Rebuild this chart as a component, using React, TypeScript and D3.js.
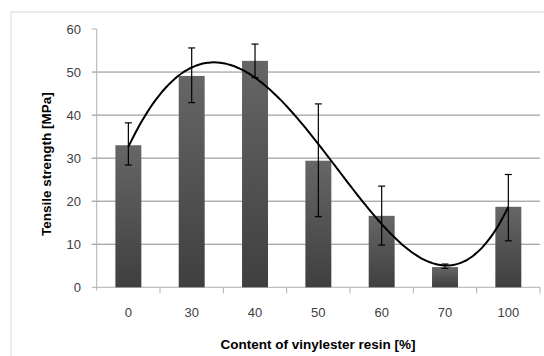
import React from 'react';
import * as d3 from 'd3';

const categories = ['0', '30', '40', '50', '60', '70', '100'];
const strength = [33.0, 49.1, 52.6, 29.4, 16.6, 4.7, 18.7];
const errUpper = [38.2, 55.6, 56.5, 42.6, 23.5, 5.4, 26.2];
const errLower = [28.4, 42.9, 48.7, 16.4, 9.8, 4.4, 10.8];
const yTicks = [0, 10, 20, 30, 40, 50, 60];
const trendOrder = 4;

const W = 544;
const H = 356;
const left = 96.7;
const right = 540;
const top = 29;
const bottom = 287.3;
const font = '"Liberation Sans", Arial, sans-serif';

// least squares polynomial, like the spreadsheet trendline
function polyFit(xs: number[], ys: number[], order: number) {
  const n = order + 1;
  const a: number[][] = [];
  for (let i = 0; i < n; i++) {
    a.push([]);
    for (let j = 0; j <= n; j++) a[i].push(0);
  }
  xs.forEach((x, k) => {
    for (let i = 0; i < n; i++) {
      for (let j = 0; j < n; j++) a[i][j] += Math.pow(x, i + j);
      a[i][n] += ys[k] * Math.pow(x, i);
    }
  });
  for (let c = 0; c < n; c++) {
    let p = c;
    for (let r = c + 1; r < n; r++) if (Math.abs(a[r][c]) > Math.abs(a[p][c])) p = r;
    [a[c], a[p]] = [a[p], a[c]];
    for (let r = 0; r < n; r++) {
      if (r === c) continue;
      const f = a[r][c] / a[c][c];
      for (let j = c; j <= n; j++) a[r][j] -= f * a[c][j];
    }
  }
  const coef = a.map((row, i) => row[n] / row[i]);
  return (x: number) => coef.reduce((s, c, i) => s + c * Math.pow(x, i), 0);
}

export default function App() {
  const x = d3.scaleBand<string>()
    .domain(categories)
    .range([left, right])
    .paddingInner(0.59)
    .paddingOuter(0.295);
  const y = d3.scaleLinear().domain([0, 60]).range([bottom, top]);
  const step = x.step();
  const cx = (i: number) => (x(categories[0]) as number) + x.bandwidth() / 2 + i * step;

  const idx = categories.map((_, i) => i + 1);
  const fit = polyFit(idx, strength, trendOrder);
  const samples = d3.range(1, 7.001, 0.05);
  const line = d3.line<number>()
    .x((t) => cx(t - 1))
    .y((t) => y(fit(t)))
    .curve(d3.curveMonotoneX);

  return (
    <svg width={W} height={H} style={{ position: 'absolute', left: 0, top: 0, background: '#fff' }}>
      <defs>
        <linearGradient id="barGrad" x1="0" y1="0" x2="0" y2="1">
          <stop offset="0%" stopColor="#666666" />
          <stop offset="100%" stopColor="#3f3f3f" />
        </linearGradient>
      </defs>
      <rect x={11} y={12} width={W + 10} height={H + 10} fill="none" stroke="#d9d9d9" />

      {yTicks.filter((t) => t > 0 && t < 60).map((t) => (
        <line key={'g' + t} x1={left - 5} x2={right} y1={y(t)} y2={y(t)} stroke="#8a8a8a" />
      ))}
      <line x1={left} x2={left} y1={top} y2={bottom + 3} stroke="#b0b0b0" />
      <line x1={left - 5} x2={right} y1={bottom} y2={bottom} stroke="#b0b0b0" />
      <line x1={left - 5} x2={left} y1={top} y2={top} stroke="#b0b0b0" />
      {categories.map((c, i) => (
        <line key={'xt' + c} x1={left + (i + 1) * step} x2={left + (i + 1) * step}
          y1={bottom} y2={bottom + 6} stroke="#b0b0b0" />
      ))}

      {yTicks.map((t) => (
        <text key={'yl' + t} x={81} y={y(t) + 4.5} textAnchor="end" fontFamily={font}
          fontSize={13} fill="#404040">{t}</text>
      ))}
      {categories.map((c, i) => (
        <text key={'xl' + c} x={cx(i)} y={317} textAnchor="middle" fontFamily={font}
          fontSize={13} fill="#404040">{c}</text>
      ))}

      {strength.map((v, i) => (
        <rect key={'b' + i} x={x(categories[i])} y={y(v)} width={x.bandwidth()}
          height={y(0) - y(v)} fill="url(#barGrad)" />
      ))}

      {strength.map((_, i) => (
        <g key={'e' + i} stroke="#000" strokeWidth={1.2}>
          <line x1={cx(i)} x2={cx(i)} y1={y(errUpper[i])} y2={y(errLower[i])} />
          <line x1={cx(i) - 3.5} x2={cx(i) + 3.5} y1={y(errUpper[i])} y2={y(errUpper[i])} />
          <line x1={cx(i) - 3.5} x2={cx(i) + 3.5} y1={y(errLower[i])} y2={y(errLower[i])} />
        </g>
      ))}

      <path d={line(samples) || ''} fill="none" stroke="#000" strokeWidth={2} />

      <text transform={`translate(51,${(top + bottom) / 2 + 6}) rotate(-90)`} textAnchor="middle"
        fontFamily={font} fontWeight="bold" fontSize={13.5} fill="#000">Tensile strength [MPa]</text>
      <text x={318} y={349} textAnchor="middle" fontFamily={font} fontWeight="bold"
        fontSize={13.5} fill="#000">Content of vinylester resin [%]</text>
    </svg>
  );
}
